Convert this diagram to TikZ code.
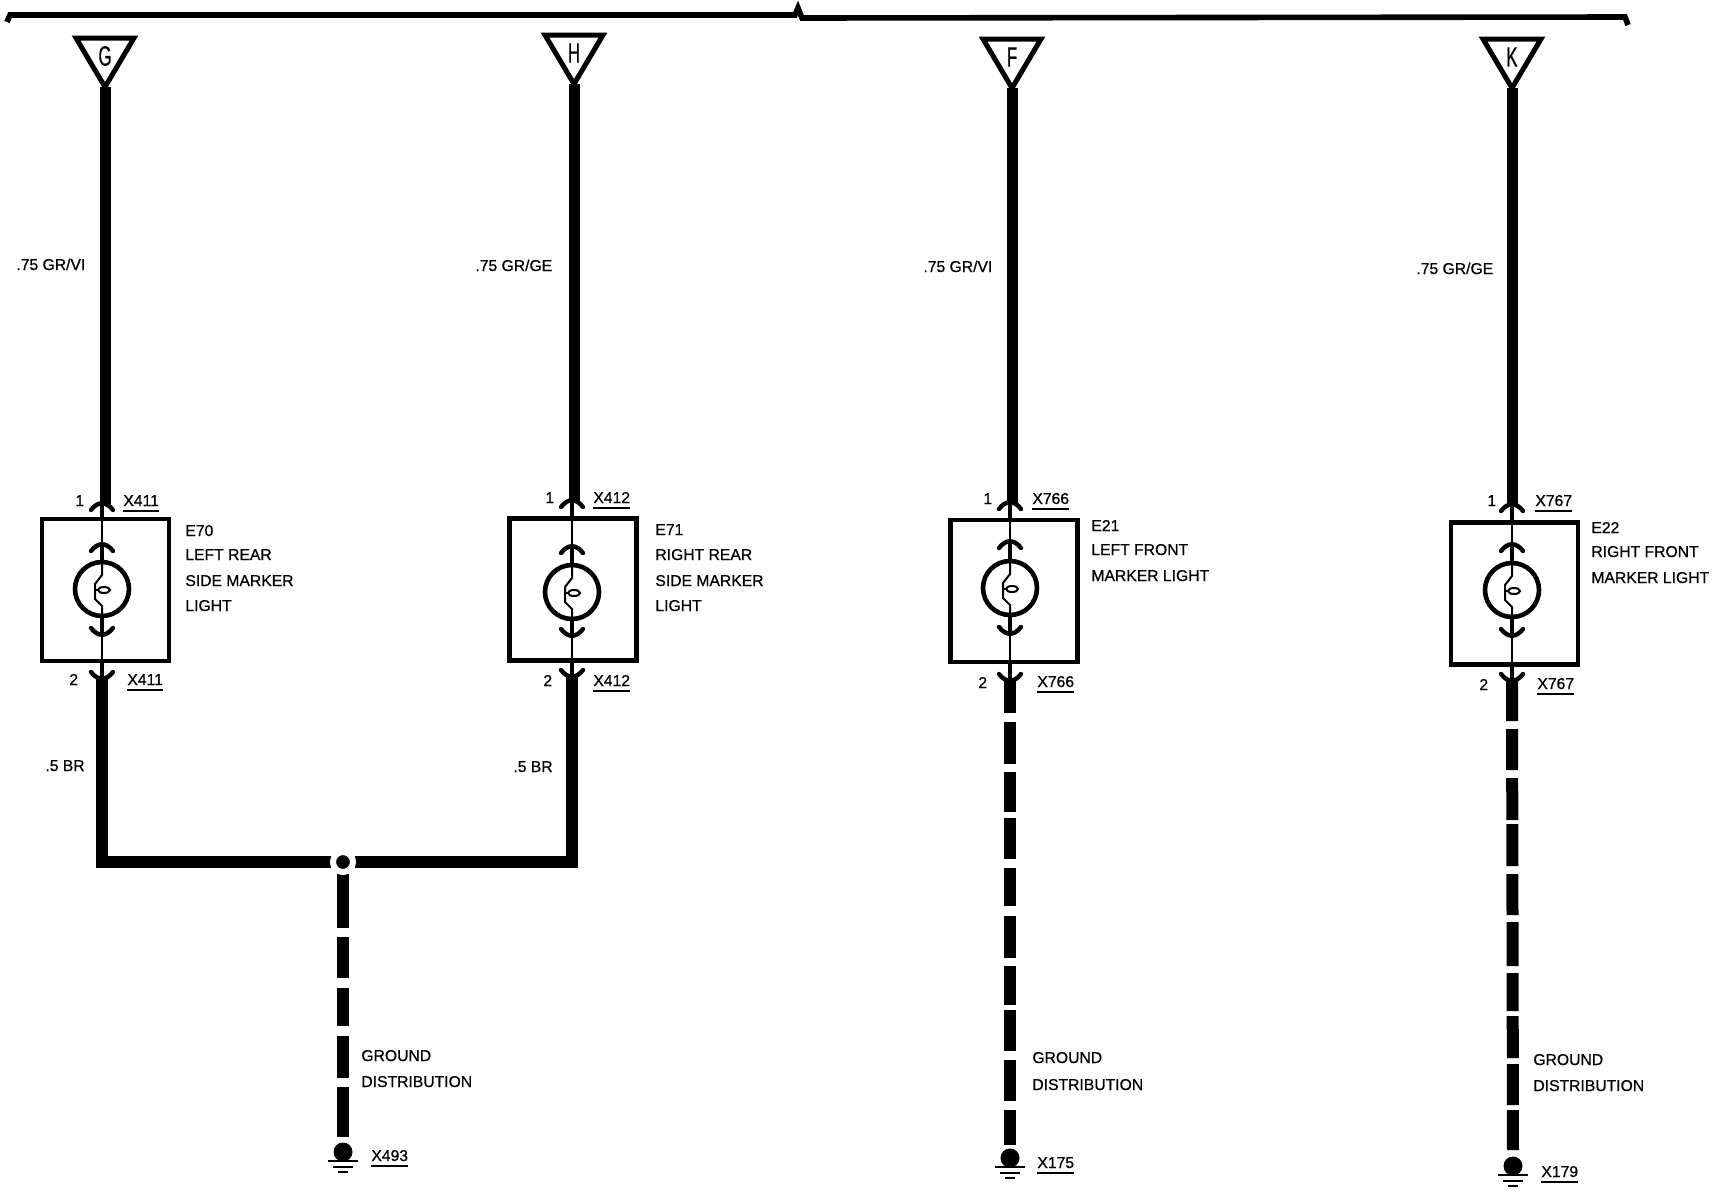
\documentclass[tikz,border=0pt]{standalone}
\usepackage{fontspec}
\setmainfont[FakeBold=0.7]{Liberation Sans}
\tikzset{
wire/.style={line width=6pt},
stubwire/.style={line width=2pt},
thinwire/.style={line width=1pt},
plugarc/.style={line width=2.2pt,line cap=round},
pinshape/.style={line width=2.5pt,line join=miter},
lampbox/.style={draw,line width=2.2pt,minimum width=63.5pt,minimum height=71pt,inner sep=0pt},
lampbulb/.style={draw,circle,line width=2.3pt,minimum size=27pt,inner sep=0pt},
junctiondot/.style={draw=white,fill=black,circle,line width=3pt,minimum size=10pt,inner sep=0pt},
gnddot/.style={fill=black,circle,minimum size=9.5pt,inner sep=0pt},
gndbar/.style={line width=1pt},
txt/.style={anchor=base west,inner sep=0pt,font=\fontsize{7.85}{10}\selectfont},
pinletter/.style={inner sep=0pt,xscale=.6,font=\fontsize{14}{14}\selectfont},
tagline/.style={line width=1pt}
}
\begin{document}
\begin{tikzpicture}[x=.5pt,y=-.5pt]
\useasboundingbox (0,0) rectangle (1714,1200);
\draw[line width=2.8pt] (7,22)--(10,15)--(795,15)--(798,8)--(802,18)--(1625,17)--(1628,25);
\foreach \n/\tx/\ty/\wx/\cx/\cy/\ly/\oT/\iT/\iB/\oB in {
G/105/38/102/105.75/590/589/502/543/636/680,
H/574/35/572/573/589.5/592/499/545/637/678,
F/1012/39/1010/1014/591/588/501/540/635/682,
K/1512/39/1512/1514.5/593.5/590/503/543/637/682}{
\coordinate (tip\n) at (\tx,\ty+49);
\coordinate (top\n) at (\tx,\oT+2);
\coordinate (bot\n) at (\wx,\oB-2);
\draw[pinshape] (\tx-29,\ty)--(\tx+29,\ty)--(tip\n)--cycle;
\node[pinletter] (pin\n) at (\tx,\ty+18) {\n};
\draw[wire,line width=5.5pt] (tip\n)--(top\n);
\node[lampbox] (box\n) at (\cx,\cy) {};
\node[lampbulb] (lamp\n) at (\wx,\ly) {};
\draw[plugarc] (\wx-11,\oT+8) .. controls (\wx-4,\oT-1) and (\wx+4,\oT-1) .. (\wx+11,\oT+8);
\draw[plugarc] (\wx-11,\iT+8) .. controls (\wx-4,\iT-1) and (\wx+4,\iT-1) .. (\wx+11,\iT+8);
\draw[plugarc] (\wx-11,\iB-8) .. controls (\wx-4,\iB+1) and (\wx+4,\iB+1) .. (\wx+11,\iB-8);
\draw[plugarc] (\wx-11,\oB-8) .. controls (\wx-4,\oB+1) and (\wx+4,\oB+1) .. (\wx+11,\oB-8);
\draw[stubwire] (\wx,\oT+2)--(\wx,\cy-71);
\draw[thinwire] (\wx,\cy-71)--(\wx,\iT+2);
\draw[stubwire] (\wx,\iT+2)--(lamp\n.north);
\draw[stubwire] (lamp\n.south)--(\wx,\iB-2);
\draw[thinwire] (\wx,\iB-2)--(\wx,\cy+71);
\draw[stubwire] (\wx,\cy+71)--(bot\n);
\draw[thinwire] (lamp\n.north)--(\wx,\ly-14)--(\wx-7,\ly-5)--(\wx-7,\ly+10)--(\wx,\ly+17)--(lamp\n.south);
\draw[thinwire] (\wx-7,\ly+1)--(\wx-4,\ly+1);
\draw[thinwire] (\wx+2,\ly+1) ellipse [x radius=6,y radius=3];
}
\foreach \n/\x/\y in {G/343/1152,F/1010/1158,K/1513/1166}{
\node[gnddot] (gnd\n) at (\x,\y) {};
\draw[gndbar] (\x-15,\y+9)--(\x+15,\y+9);
\draw[gndbar] (\x-10,\y+15)--(\x+10,\y+15);
\draw[gndbar] (\x-5,\y+20)--(\x+5,\y+20);
}
\coordinate (cornerG) at (102,862);
\coordinate (cornerH) at (572,862);
\coordinate (forkG) at (343,862);
\draw[wire] (botG)--(cornerG)--(cornerH)--(botH);
\draw[wire,dash pattern=on 33pt off 4.5pt on 20.5pt off 5pt on 19pt off 5pt on 21pt off 4.5pt on 25pt off 4pt] (forkG)--(gndG.north);
\draw[wire,dash pattern=on 16.5pt off 4.5pt on 21pt off 4pt on 20pt off 3pt on 20.5pt off 4.5pt on 19pt off 5pt on 21pt off 4pt on 19.5pt off 2.5pt on 20.5pt off 4.5pt on 20.5pt off 4.5pt on 17.5pt off 4pt] (botF)--(gndF.north);
\draw[wire,dash pattern=on 20.5pt off 4pt on 20.5pt off 4pt on 21pt off 2pt on 21pt off 4pt on 20.5pt off 3.5pt on 22pt off 3.5pt on 19pt off 2.5pt on 21pt off 3pt on 20.5pt off 2.5pt on 20pt off 4pt] (botK)--(gndK.north);
\node[junctiondot] (junction) at (forkG) {};
\foreach \t/\x/\y [count=\i] in {
{.75 GR/VI}/16/270,{.75 GR/GE}/475/271,{.75 GR/VI}/923/272,{.75 GR/GE}/1416/274,
{.5 BR}/45/771,{.5 BR}/513/772,
1/75/506,2/69/685,1/545/503,2/543/686,1/983/504,2/978/688,1/1487/506,2/1479/690,
E70/185/536,{LEFT REAR}/185/560,{SIDE MARKER}/185/586,LIGHT/185/611,
E71/655/535,{RIGHT REAR}/655/560,{SIDE MARKER}/655/586,LIGHT/655/611,
E21/1091/531,{LEFT FRONT}/1091/555,{MARKER LIGHT}/1091/581,
E22/1591/533,{RIGHT FRONT}/1591/557,{MARKER LIGHT}/1591/583,
GROUND/361/1061,DISTRIBUTION/361/1087,
GROUND/1032/1063,DISTRIBUTION/1032/1090,
GROUND/1533/1065,DISTRIBUTION/1533/1091}{
\node[txt] (label\i) at (\x,\y) {\t};
}
\foreach \t/\x/\y [count=\i] in {
X411/123/506,X411/127/685,X412/593/503,X412/593/686,
X766/1032/504,X766/1037/687,X767/1535/506,X767/1537/689,
X493/371/1161,X175/1037/1168,X179/1541/1177}{
\node[txt] (tag\i) at (\x,\y) {\t};
\draw[tagline] ([yshift=-2.6pt]tag\i.base west)--([yshift=-2.6pt]tag\i.base east);
}
\end{tikzpicture}
\end{document}
